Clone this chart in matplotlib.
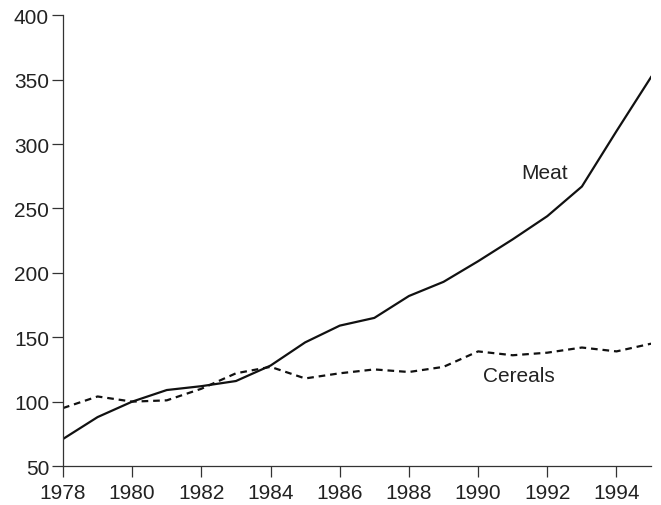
import matplotlib.pyplot as plt

plt.rcParams['font.family'] = ['Liberation Sans', 'DejaVu Sans']

years = list(range(1978, 1996))
meat = [71, 88, 100, 109, 112, 116, 128, 146, 159, 165, 182, 193, 209, 226, 244, 267, 310, 352]
cereals = [95, 104, 100, 101, 110, 122, 127, 118, 122, 125, 123, 127, 139, 136, 138, 142, 139, 145]

xticks = list(range(1978, 1995, 2))
yticks = list(range(50, 401, 50))

fig = plt.figure(figsize=(6.61, 5.06), dpi=100)
ax = fig.add_axes([0.0953, 0.077, 0.8897, 0.891])

ax.plot(years, meat, color='#111111', lw=1.6, solid_joinstyle='round')
ax.plot(years, cereals, color='#111111', lw=1.6, linestyle=(0, (3, 2.2)))

ax.text(1991.93, 278, 'Meat', fontsize=15, color='#222222', ha='center', va='center')
ax.text(1991.18, 120, 'Cereals', fontsize=15, color='#222222', ha='center', va='center')

ax.set_xlim(1978, 1995)
ax.set_ylim(50, 400)
ax.set_xticks(xticks)
ax.set_yticks(yticks)

for s in ['top', 'right']:
    ax.spines[s].set_visible(False)
for s in ['left', 'bottom']:
    ax.spines[s].set_color('#333333')
    ax.spines[s].set_linewidth(0.9)

ax.tick_params(direction='out', length=8, width=0.9, color='#333333',
               labelsize=15, labelcolor='#222222', pad=2)
ax.tick_params(axis='x', pad=4.5)

fig.savefig('out.png', dpi=100)
